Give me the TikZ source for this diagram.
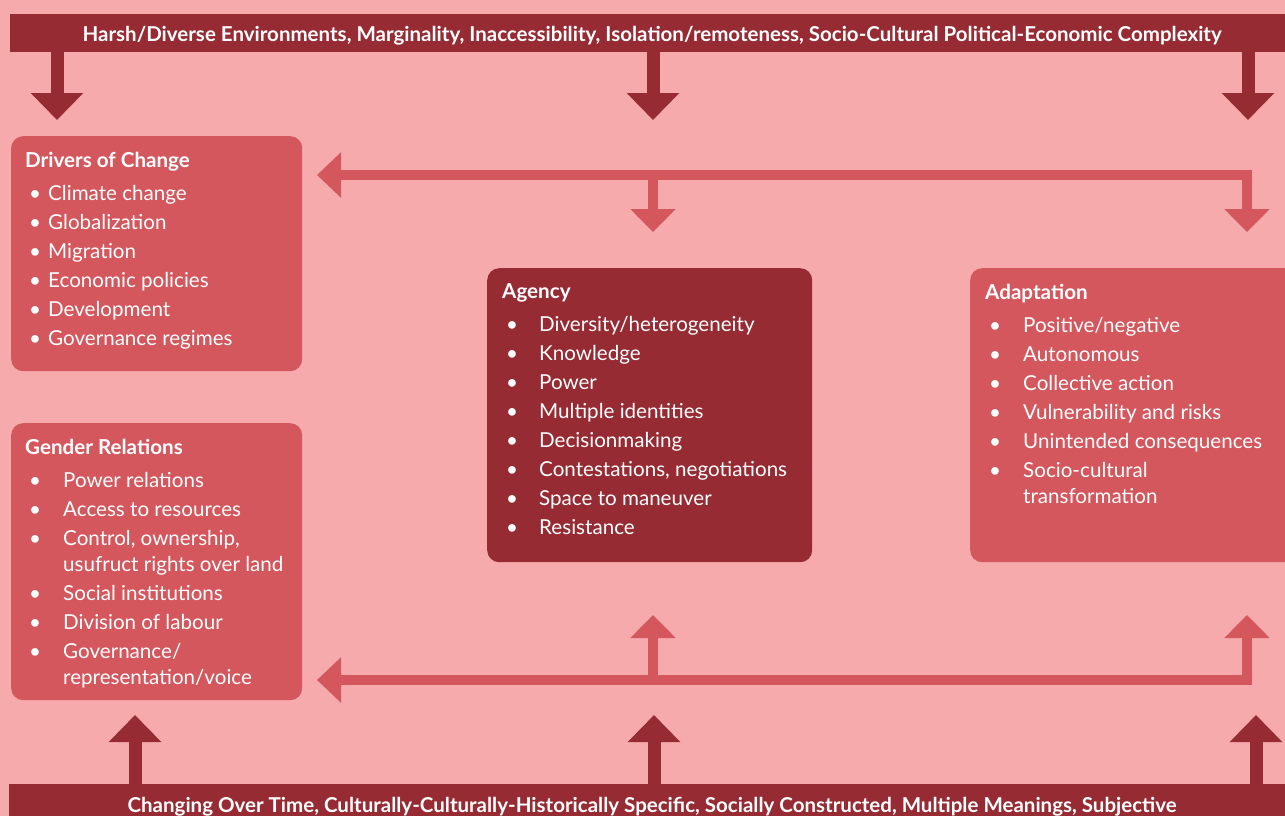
\documentclass[tikz,border=0pt]{standalone}
\usepackage{fontspec}
\setmainfont{Lato}
\usetikzlibrary{arrows.meta}

\definecolor{bgpink}{HTML}{F6AAAC}
\definecolor{midred}{HTML}{D3575D}
\definecolor{darkred}{HTML}{962B34}

\newcommand{\boxfont}{\fontsize{20.6}{29}\selectfont}
\newcommand{\itemlist}[3]{%
  \begin{tabular}[t]{@{\hspace{4pt}}p{#1}@{}l@{}}
    \multicolumn{2}{@{}l@{}}{\bfseries #2}\\[4pt]
    #3
  \end{tabular}}

\begin{document}
\begin{tikzpicture}[x=1pt,y=-1pt,
    bar/.style={fill=darkred, inner sep=0pt, anchor=north west},
    bartext/.style={text=white, inner sep=0pt, anchor=base, font=\fontsize{20.5}{22}\selectfont\bfseries},
    panel/.style={fill=#1, rounded corners=12pt, inner sep=0pt, anchor=north west},
    listtext/.style={text=white, inner sep=0pt, anchor=base west, font=\boxfont},
    bigarrow/.style={darkred, line width=13pt, -{Triangle[length=27pt,width=51pt]}},
    flowarrow/.style={midred, line width=10pt, line join=miter, -{Triangle[length=23pt,width=44pt]}},
    flowboth/.style={flowarrow, {Triangle[length=24pt,width=44pt]}-{Triangle[length=23pt,width=44pt]}},
]
    \useasboundingbox (0,0) rectangle (1285,816);
    \clip (0,0) rectangle (1285,816);
    \fill[bgpink] (0,0) rectangle (1285,816);

    % context bars
    \node[bar, minimum width=1280pt, minimum height=38pt] (topbar) at (10,14) {};
    \node[bartext] (toplabel) at (652,42) {Harsh/Diverse Environments, Marginality, Inaccessibility, Isolation/remoteness, Socio-Cultural Political-Economic Complexity};
    \node[bar, minimum width=1285pt, minimum height=40pt] (bottombar) at (9,784) {};
    \node[bartext] (bottomlabel) at (652,812) {Changing Over Time, Culturally-Culturally-Historically Specific, Socially Constructed, Multiple Meanings, Subjective};

    % panels
    \node[panel=midred, minimum width=291pt, minimum height=235pt] (drivers) at (11,136) {};
    \node[listtext] (driverslist) at ([xshift=14pt,yshift=-31pt]drivers.north west) {\itemlist{19pt}{Drivers of Change}{%
        \textbullet & Climate change\\
        \textbullet & Globalization\\
        \textbullet & Migration\\
        \textbullet & Economic policies\\
        \textbullet & Development\\
        \textbullet & Governance regimes\\}};

    \node[panel=midred, minimum width=291pt, minimum height=277pt] (gender) at (11,423) {};
    \node[listtext] (genderlist) at ([xshift=14pt,yshift=-31pt]gender.north west) {\itemlist{34pt}{Gender Relations}{%
        \textbullet & Power relations\\
        \textbullet & Access to resources\\
        \textbullet & Control, ownership,\\[-3pt]
                    & usufruct rights over land\\
        \textbullet & Social institutions\\
        \textbullet & Division of labour\\
        \textbullet & Governance/\\[-3pt]
                    & representation/voice\\}};

    \node[panel=darkred, minimum width=325pt, minimum height=294pt] (agency) at (487,268) {};
    \node[listtext] (agencylist) at ([xshift=15pt,yshift=-30pt]agency.north west) {\itemlist{33pt}{Agency}{%
        \textbullet & Diversity/heterogeneity\\
        \textbullet & Knowledge\\
        \textbullet & Power\\
        \textbullet & Multiple identities\\
        \textbullet & Decisionmaking\\
        \textbullet & Contestations, negotiations\\
        \textbullet & Space to maneuver\\
        \textbullet & Resistance\\}};

    \node[panel=midred, minimum width=340pt, minimum height=294pt] (adaptation) at (970,268) {};
    \node[listtext] (adaptationlist) at ([xshift=15pt,yshift=-31pt]adaptation.north west) {\itemlist{34pt}{Adaptation}{%
        \textbullet & Positive/negative\\
        \textbullet & Autonomous\\
        \textbullet & Collective action\\
        \textbullet & Vulnerability and risks\\
        \textbullet & Unintended consequences\\
        \textbullet & Socio-cultural\\[-3pt]
                    & transformation\\}};

    % context arrows
    \foreach \x/\n in {57/a,653/b,1248/c}{
        \coordinate (top\n) at (\x,120);
        \draw[bigarrow] (topbar.south -| top\n) -- (top\n);
    }
    \foreach \x/\n in {135/a,654/b,1256/c}{
        \coordinate (bot\n) at (\x,715);
        \draw[bigarrow] (bottombar.north -| bot\n) -- (bot\n);
    }

    % feedback lines
    \coordinate (uleft) at (317,175);
    \coordinate (ucorner) at (1247,175);
    \coordinate (umid) at (653,232);
    \coordinate (uright) at (1247,232);
    \draw[flowboth] (uleft) -- (ucorner) -- (uright);
    \draw[flowarrow] (uleft -| umid) -- (umid);

    \coordinate (lleft) at (317,680);
    \coordinate (lcorner) at (1247,680);
    \coordinate (lmid) at (653,615);
    \coordinate (lright) at (1247,615);
    \draw[flowboth] (lleft) -- (lcorner) -- (lright);
    \draw[flowarrow] (lleft -| lmid) -- (lmid);
\end{tikzpicture}
\end{document}
